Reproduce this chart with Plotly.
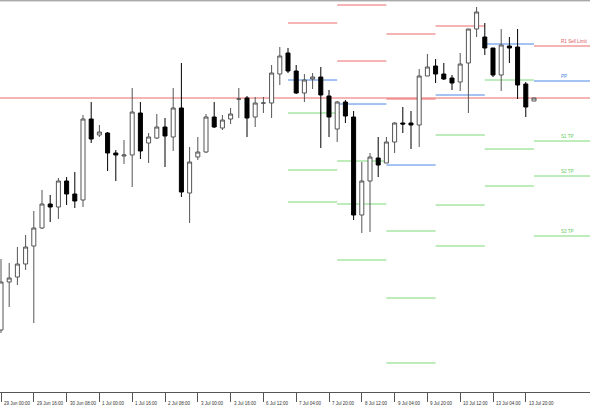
import pandas as pd
import plotly.graph_objects as go

# ---------------- data (H4 candles) ----------------
open_ = [1.0920, 1.0968, 1.0973, 1.0986, 1.1004, 1.1022, 1.1046, 1.1043, 1.1069, 1.1056,
         1.1050, 1.1131, 1.1115, 1.1117, 1.1097, 1.1094, 1.1095, 1.1137, 1.1107, 1.1112,
         1.1123, 1.1113, 1.1142, 1.1057, 1.1093, 1.1098, 1.1133, 1.1122, 1.1131, 1.1151,
         1.1152, 1.1133, 1.1147, 1.1147, 1.1176, 1.1197, 1.1179, 1.1157, 1.1171, 1.1173,
         1.1154, 1.1121, 1.1148, 1.1133, 1.1035, 1.1069, 1.1092, 1.1087, 1.1108, 1.1127,
         1.1127, 1.1125, 1.1174, 1.1184, 1.1176, 1.1172, 1.1168, 1.1187, 1.1221, 1.1213,
         1.1202, 1.1175, 1.1204, 1.1203, 1.1166, 1.1149]
high = [1.0991, 1.0987, 1.1003, 1.1015, 1.1039, 1.1060, 1.1055, 1.1072, 1.1073, 1.1078,
        1.1135, 1.1148, 1.1125, 1.1118, 1.1100, 1.1110, 1.1162, 1.1148, 1.1117, 1.1136,
        1.1132, 1.1162, 1.1187, 1.1103, 1.1113, 1.1136, 1.1148, 1.1135, 1.1142, 1.1162,
        1.1154, 1.1153, 1.1153, 1.1185, 1.1203, 1.1202, 1.1185, 1.1176, 1.1177, 1.1183,
        1.1160, 1.1149, 1.1150, 1.1139, 1.1088, 1.1097, 1.1113, 1.1113, 1.1128, 1.1143,
        1.1139, 1.1181, 1.1196, 1.1191, 1.1187, 1.1175, 1.1197, 1.1221, 1.1243, 1.1227,
        1.1202, 1.1221, 1.1213, 1.1221, 1.1168, 1.1152]
low = [1.0917, 1.0943, 1.0965, 1.0980, 1.0927, 1.1021, 1.1028, 1.1031, 1.1045, 1.1042,
       1.1043, 1.1107, 1.1113, 1.1079, 1.1069, 1.1086, 1.1063, 1.1091, 1.1087, 1.1111,
       1.1083, 1.1099, 1.1053, 1.1027, 1.1090, 1.1097, 1.1122, 1.1120, 1.1126, 1.1132,
       1.1113, 1.1123, 1.1137, 1.1132, 1.1165, 1.1177, 1.1156, 1.1148, 1.1161, 1.1102,
       1.1113, 1.1108, 1.1127, 1.1030, 1.1017, 1.1018, 1.1073, 1.1087, 1.1097, 1.1117,
       1.1101, 1.1103, 1.1174, 1.1167, 1.1170, 1.1160, 1.1159, 1.1137, 1.1213, 1.1195,
       1.1173, 1.1159, 1.1187, 1.1151, 1.1133, 1.1149]
close = [1.0968, 1.0972, 1.0986, 1.1003, 1.1022, 1.1046, 1.1043, 1.1069, 1.1056, 1.1049,
         1.1131, 1.1111, 1.1118, 1.1097, 1.1095, 1.1095, 1.1138, 1.1099, 1.1113, 1.1123,
         1.1114, 1.1142, 1.1058, 1.1088, 1.1098, 1.1133, 1.1123, 1.1130, 1.1136, 1.1151,
         1.1132, 1.1147, 1.1147, 1.1177, 1.1194, 1.1179, 1.1157, 1.1170, 1.1173, 1.1155,
         1.1133, 1.1148, 1.1134, 1.1035, 1.1069, 1.1093, 1.1085, 1.1108, 1.1127, 1.1126,
         1.1125, 1.1174, 1.1183, 1.1176, 1.1171, 1.1167, 1.1186, 1.1221, 1.1238, 1.1202,
         1.1175, 1.1205, 1.1202, 1.1165, 1.1143, 1.1152]

# trading sessions (contiguous H4 blocks)
session_blocks = [("2015-06-29 00:00", "2015-07-03 16:00"),
                  ("2015-07-06 00:00", "2015-07-10 20:00"),
                  ("2015-07-13 00:00", "2015-07-14 00:00")]

tick_labels = ["29 Jun 00:00", "29 Jun 16:00", "30 Jun 08:00", "1 Jul 00:00", "1 Jul 16:00",
               "2 Jul 08:00", "3 Jul 00:00", "3 Jul 16:00", "6 Jul 12:00", "7 Jul 04:00",
               "7 Jul 20:00", "8 Jul 12:00", "9 Jul 04:00", "9 Jul 20:00", "10 Jul 12:00",
               "13 Jul 04:00", "13 Jul 20:00"]

# daily pivot levels
pivot_days = ["2015-07-07", "2015-07-08", "2015-07-09", "2015-07-10", "2015-07-13", "2015-07-14"]
pivot_R2 = [None, 1.1245, 1.1216, None, None, None]
pivot_R1 = [1.1227, 1.1189, 1.1151, 1.1224, None, 1.1204]
pivot_PP = [1.1170, 1.1146, 1.1085, 1.1155, 1.1206, 1.1169]
pivot_S1 = [1.1137, 1.1089, 1.1019, 1.1115, 1.1170, 1.1109]
pivot_S2 = [1.1080, 1.1046, 1.0952, 1.1045, 1.1101, 1.1074]
pivot_S3 = [1.1048, 1.0990, 1.0887, 1.1004, 1.1064, 1.1014]
level_labels = {"R1": "R1 Sell Limit", "PP": "PP", "S1": "S1 TP", "S2": "S2 TP", "S3": "S3 TP"}

price_line = 1.1152

# ---------------- build ----------------
times = []
for a, b in session_blocks:
    times.extend(pd.date_range(a, b, freq="4h"))
n = len(times)
xs = list(range(n))
label_of = [f"{t.day} {t.strftime('%b')} {t.strftime('%H:%M')}" for t in times]

X_MIN, X_MAX = -0.122, 71.83
Y_MIN, Y_MAX = 1.0858, 1.1250

RED = "#ea6a6a"
BLUE = "#4f86e6"
GREEN = "#7fd877"
COLORS = {"R2": RED, "R1": RED, "PP": BLUE, "S1": GREEN, "S2": GREEN, "S3": GREEN}
TXT = {"R1": "#e05a5a", "PP": "#4f86e6", "S1": "#66cc5e", "S2": "#66cc5e", "S3": "#66cc5e"}
FONT = "Liberation Sans, Arial"

fig = go.Figure()
fig.add_trace(go.Candlestick(
    x=xs, open=open_, high=high, low=low, close=close,
    increasing=dict(line=dict(color="#555555", width=1), fillcolor="#ffffff"),
    decreasing=dict(line=dict(color="#000000", width=1), fillcolor="#000000"),
    hoverinfo="skip", showlegend=False,
))

shapes = []
shapes.append(dict(type="line", xref="paper", yref="y", x0=0, x1=1, y0=price_line, y1=price_line,
                   line=dict(color=RED, width=1), layer="below"))
shapes.append(dict(type="line", xref="paper", yref="paper", x0=0, x1=1, y0=0.998, y1=0.998,
                   line=dict(color="#888888", width=1)))

day_dates = [t.strftime("%Y-%m-%d") for t in times]
levels = {"R2": pivot_R2, "R1": pivot_R1, "PP": pivot_PP, "S1": pivot_S1, "S2": pivot_S2, "S3": pivot_S3}
annotations = []
for k, d in enumerate(pivot_days):
    start = day_dates.index(d)
    if k + 1 < len(pivot_days):
        end = day_dates.index(pivot_days[k + 1])
    else:
        end = X_MAX
    for name, vals in levels.items():
        v = vals[k]
        if v is None:
            continue
        shapes.append(dict(type="line", xref="x", yref="y", x0=start, x1=end, y0=v, y1=v,
                           line=dict(color=COLORS[name], width=1), layer="below"))
        if k == len(pivot_days) - 1 and name in level_labels:
            annotations.append(dict(x=68.0, y=v, xref="x", yref="y", text=level_labels[name],
                                    showarrow=False, xanchor="left", yanchor="bottom", yshift=0,
                                    font=dict(size=4.6, color=TXT[name], family=FONT)))

tick_idx = [label_of.index(lbl) for lbl in tick_labels]
for i, lbl in zip(tick_idx, tick_labels):
    annotations.append(dict(x=i, y=0, xref="x", yref="paper", text=lbl, showarrow=False,
                            xanchor="left", yanchor="middle", xshift=1, yshift=-11,
                            font=dict(size=4.5, color="#333333", family=FONT)))

fig.update_layout(
    width=590, height=410,
    margin=dict(l=0, r=0, t=0, b=18),
    paper_bgcolor="#ffffff", plot_bgcolor="#ffffff",
    shapes=shapes, annotations=annotations,
    xaxis=dict(range=[X_MIN, X_MAX], rangeslider=dict(visible=False), showgrid=False,
               zeroline=False, showline=True, linecolor="#555555", linewidth=1,
               tickmode="array", tickvals=tick_idx, ticktext=[""] * len(tick_idx),
               ticks="outside", ticklen=9, tickcolor="#555555", tickwidth=1,
               showticklabels=False),
    yaxis=dict(range=[Y_MIN, Y_MAX], showgrid=False, zeroline=False, showline=False,
               showticklabels=False, ticks=""),
    showlegend=False,
)

fig.write_html("out.html")
